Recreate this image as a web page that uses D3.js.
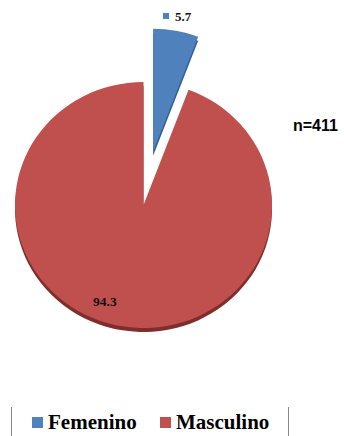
<!DOCTYPE html>
<html>
<head>
<meta charset="utf-8">
<script src="https://cdn.jsdelivr.net/npm/d3@7"></script>
<style>
  html, body { margin: 0; padding: 0; background: #fff; }
  svg { display: block; }
</style>
</head>
<body>
<svg id="chart" width="344" height="436"></svg>
<script>
// Sexo de los encuestados (%)
const categories = ["Femenino", "Masculino"];
const values = [5.7, 94.3];
const colors = ["#4F81BD", "#C0504D"];
const sideColors = ["#355E8F", "#7E2F2D"];
const sampleLabel = "n=411";

const svg = d3.select("#chart");

const cx = 143.5, cy = 205;
const rx = 128.5, ry = 123;
const depth = 4;
const explode = 54;

const pie = d3.pie().sort(null).value(d => d.value).startAngle(0).endAngle(2 * Math.PI);
const data = pie(categories.map((c, i) => ({ name: c, value: values[i], i })));

const arc = d3.arc().innerRadius(0).outerRadius(rx);
const yScale = ry / rx;

// the Femenino slice is pulled out along its bisector
function offset(d) {
  if (d.data.i !== 0) return [0, 0];
  const mid = (d.startAngle + d.endAngle) / 2;
  return [Math.sin(mid) * explode, -Math.cos(mid) * explode];
}

const g = svg.append("g");

// side (depth) of each slice
data.forEach(d => {
  const [ox, oy] = offset(d);
  g.append("path")
    .attr("d", arc(d))
    .attr("transform", `translate(${cx + ox},${cy + oy + depth}) scale(1,${yScale})`)
    .attr("fill", sideColors[d.data.i]);
});

// top face of each slice
data.forEach(d => {
  const [ox, oy] = offset(d);
  g.append("path")
    .attr("d", arc(d))
    .attr("transform", `translate(${cx + ox},${cy + oy}) scale(1,${yScale})`)
    .attr("fill", colors[d.data.i]);
});

// value labels
const serif = "'Liberation Serif', 'Times New Roman', serif";
// Femenino label with its marker, above the slice
svg.append("rect")
  .attr("x", 163).attr("y", 13).attr("width", 6).attr("height", 6)
  .attr("fill", colors[0]);
svg.append("text")
  .attr("x", 175).attr("y", 21)
  .attr("font-family", serif).attr("font-weight", "bold").attr("font-size", 13)
  .attr("fill", "#111")
  .text(values[0].toFixed(1));
// Masculino label inside the slice
svg.append("text")
  .attr("x", 93).attr("y", 306)
  .attr("font-family", serif).attr("font-weight", "bold").attr("font-size", 13.5)
  .attr("fill", "#111")
  .text(values[1].toFixed(1));

// sample size
svg.append("text")
  .attr("x", 293).attr("y", 131)
  .attr("font-family", "'Liberation Sans', Arial, sans-serif")
  .attr("font-weight", "bold").attr("font-size", 16)
  .attr("fill", "#000")
  .text(sampleLabel);

// legend
const legend = svg.append("g");
legend.append("line").attr("x1", 11.5).attr("x2", 11.5).attr("y1", 407).attr("y2", 436)
  .attr("stroke", "#888").attr("stroke-width", 1);
legend.append("line").attr("x1", 288.5).attr("x2", 288.5).attr("y1", 407).attr("y2", 436)
  .attr("stroke", "#888").attr("stroke-width", 1);

const legendX = [32, 160];
categories.forEach((c, i) => {
  legend.append("rect")
    .attr("x", legendX[i]).attr("y", 417).attr("width", 11).attr("height", 11)
    .attr("fill", colors[i]);
  legend.append("text")
    .attr("x", legendX[i] + 16).attr("y", 429)
    .attr("font-family", serif).attr("font-weight", "bold").attr("font-size", 21)
    .attr("fill", "#000")
    .text(c);
});
</script>
</body>
</html>
